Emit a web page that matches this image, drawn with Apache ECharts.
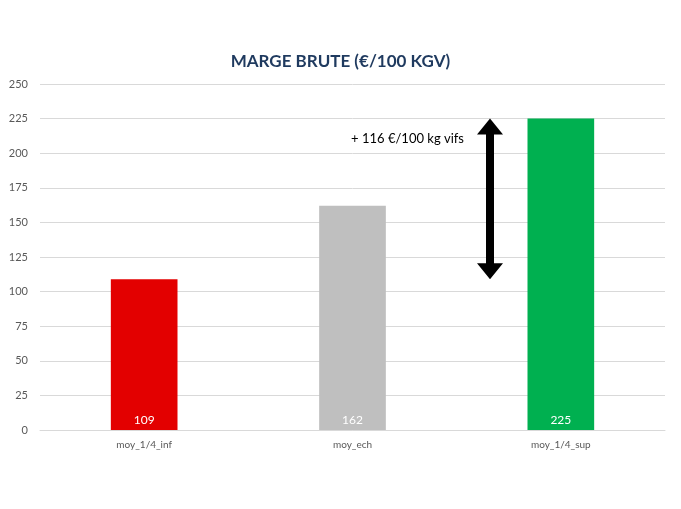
<!DOCTYPE html>
<html><head><meta charset="utf-8">
<script src="https://cdn.jsdelivr.net/npm/echarts@6/dist/echarts.min.js"></script>
<style>html,body{margin:0;padding:0;background:#fff}#c{width:681px;height:509px}</style>
</head><body><div id="c"></div>
<script>
var categories = ['moy_1/4_inf', 'moy_ech', 'moy_1/4_sup'];
var values = [109, 162, 225];
var barColors = ['#E30000', '#BFBFBF', '#00B050'];
var yTicks = [0, 25, 50, 75, 100, 125, 150, 175, 200, 225, 250];
var arrowFrom = 109, arrowTo = 225, arrowCatFrac = 0.66;
var annotation = '+ 116 €/100 kg vifs';

var chart = echarts.init(document.getElementById('c'), null, {renderer: 'canvas'});
var font = 'Lato, "Open Sans", sans-serif';
chart.setOption({
  animation: false,
  title: {text: 'MARGE BRUTE (€/100 KGV)', left: 'center', top: 48,
    textStyle: {fontFamily: font, fontSize: 17, fontWeight: 'bold', color: '#1F3A5F'}},
  grid: {left: 40, right: 16, top: 84, bottom: 79},
  xAxis: {type: 'category', data: categories,
    axisLine: {lineStyle: {color: '#D9D9D9'}}, axisTick: {show: false},
    axisLabel: {color: '#595959', fontSize: 10, fontFamily: font, margin: 10}},
  yAxis: {type: 'value', min: yTicks[0], max: yTicks[yTicks.length - 1], interval: 25,
    axisLine: {show: false}, axisTick: {show: false},
    splitLine: {lineStyle: {color: '#D9D9D9'}},
    axisLabel: {color: '#595959', fontSize: 11, fontFamily: font, margin: 12}},
  series: [{type: 'bar', barWidth: '32%',
    data: values.map(function (v, i) { return {value: v, itemStyle: {color: barColors[i]}}; }),
    label: {show: true, position: 'insideBottom', distance: 4, color: '#fff', fontSize: 12, fontFamily: font}}]
});

function drawArrow() {
  var c1 = chart.convertToPixel({gridIndex: 0}, [categories[1], arrowTo]);
  var c2 = chart.convertToPixel({gridIndex: 0}, [categories[2], arrowTo]);
  var bot = chart.convertToPixel({gridIndex: 0}, [categories[1], arrowFrom]);
  var x = c1[0] + (c2[0] - c1[0]) * arrowCatFrac, y1 = c1[1], y2 = bot[1];
  var sw = 4, hw = 13, hh = 16;
  var pts = [[x, y1], [x + hw, y1 + hh], [x + sw, y1 + hh], [x + sw, y2 - hh], [x + hw, y2 - hh],
    [x, y2], [x - hw, y2 - hh], [x - sw, y2 - hh], [x - sw, y1 + hh], [x - hw, y1 + hh]];
  chart.setOption({graphic: [
    {type: 'polygon', z: 100, shape: {points: pts}, style: {fill: '#000'}},
    {type: 'text', z: 100, x: x - 26, y: y1 + 20, style: {text: annotation, textAlign: 'right', textVerticalAlign: 'middle',
      fill: '#000', fontSize: 13, fontFamily: font}}
  ]});
}
drawArrow();
</script></body></html>
